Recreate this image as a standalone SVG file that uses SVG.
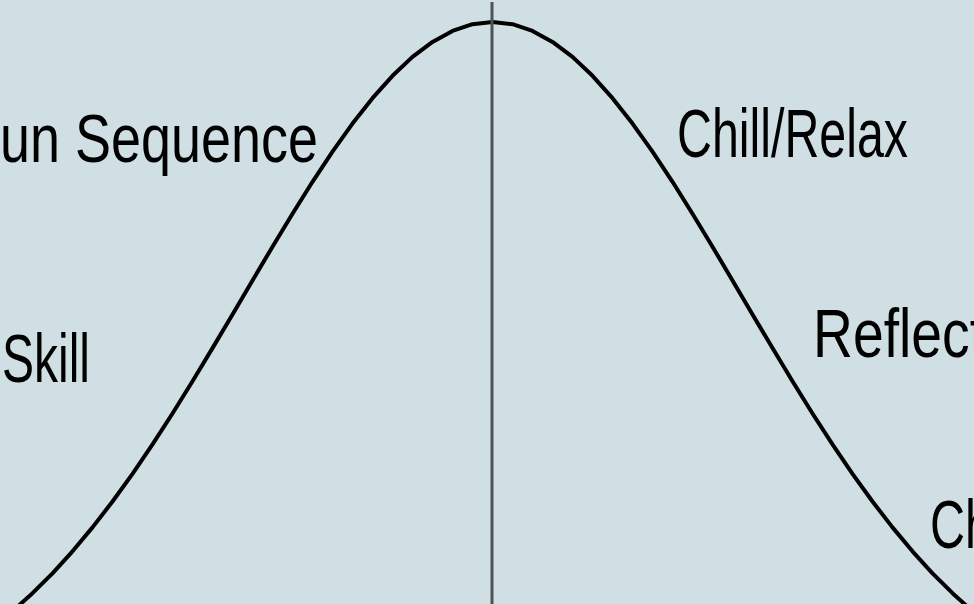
<svg xmlns="http://www.w3.org/2000/svg" width="974" height="604" viewBox="0 0 974 604">
  <style>
    .lbl { font-family: "Liberation Sans", "DejaVu Sans", sans-serif; font-size: 68px; fill: #000000; }
    .curve { fill: none; stroke: #000000; stroke-width: 4; stroke-linejoin: round; stroke-linecap: round; }
    .axis { stroke: #4d5356; stroke-width: 3; }
  </style>
  <rect x="0" y="0" width="974" height="604" fill="#d0dfe3"/>
  <g id="connectors">
    <polyline class="curve" points="-27.5,641.5 -7.5,627.3 12.5,611.2 32.5,593.2 52.5,573.3 72.5,551.3 92.5,527.4 112.5,501.5 132.5,473.8 152.5,444.4 172.5,413.5 192.5,381.3 212.5,348.1 232.5,314.4 252.5,280.5 272.5,246.7 292.5,213.7 312.5,181.8 332.5,151.6 352.5,123.6 372.5,98.2 392.5,75.8 412.5,56.9 432.5,41.9 452.5,30.9 472.5,24.2 492.5,22 512.5,24.2 532.5,30.9 552.5,41.9 572.5,56.9 592.5,75.8 612.5,98.2 632.5,123.6 652.5,151.6 672.5,181.8 692.5,213.7 712.5,246.7 732.5,280.5 752.5,314.4 772.5,348.1 792.5,381.3 812.5,413.5 832.5,444.4 852.5,473.8 872.5,501.5 892.5,527.4 912.5,551.3 932.5,573.3 952.5,593.2 972.5,611.2 992.5,627.3 1012.5,641.5"/>
    <line class="axis" x1="492" y1="2" x2="492" y2="604"/>
  </g>
  <g id="label-sequence">
    <text class="lbl" x="0" y="162" textLength="318" lengthAdjust="spacingAndGlyphs">un Sequence</text>
  </g>
  <g id="label-chill">
    <text class="lbl" x="677" y="157" textLength="231" lengthAdjust="spacingAndGlyphs">Chill/Relax</text>
  </g>
  <g id="label-reflect">
    <text class="lbl" x="813" y="357" textLength="172" lengthAdjust="spacingAndGlyphs">Reflect</text>
  </g>
  <g id="label-skill">
    <text class="lbl" x="2" y="382" textLength="88" lengthAdjust="spacingAndGlyphs">Skill</text>
  </g>
  <g id="label-ch">
    <text class="lbl" x="930" y="548" textLength="62" lengthAdjust="spacingAndGlyphs">Ch</text>
  </g>
</svg>
